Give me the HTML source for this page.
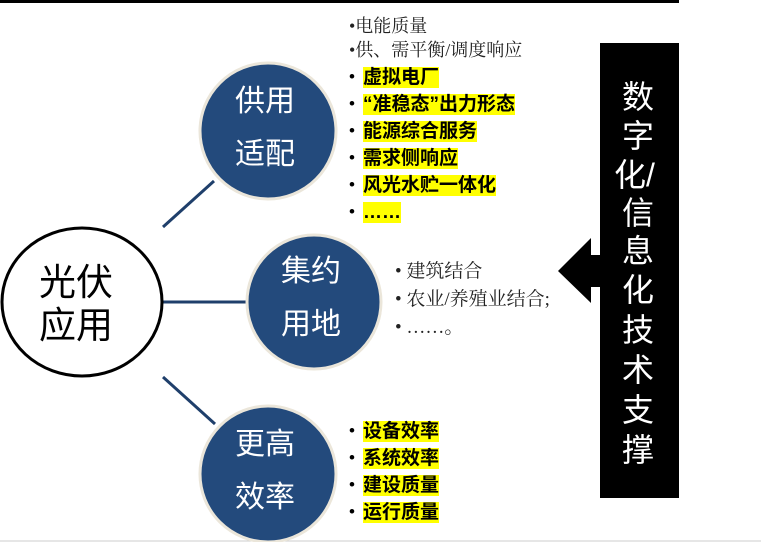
<!DOCTYPE html>
<html><head><meta charset="utf-8"><style>
body{margin:0;width:761px;height:542px;position:relative;background:#fff;overflow:hidden;font-family:"Liberation Sans","Noto Sans CJK SC",sans-serif}
.t{position:absolute;white-space:nowrap;line-height:1}
.hl{background:#ff0;font-weight:bold;color:#000;font-size:19px;position:absolute;left:14px;top:-1px;padding:1px 0}
.sr{font-family:"Liberation Serif","Noto Serif CJK SC",serif;color:#222}
</style></head><body>
<svg width="761" height="542" style="position:absolute;left:0;top:0">
<rect x="0" y="0" width="679" height="3" fill="#000"/>
<line x1="0" y1="541" x2="761" y2="541" stroke="#ccc" stroke-width="1"/>
<line x1="163" y1="227" x2="214" y2="181" stroke="#1f3f6b" stroke-width="3"/>
<line x1="163" y1="302" x2="246" y2="302" stroke="#1f3f6b" stroke-width="3"/>
<line x1="163" y1="377" x2="215" y2="424" stroke="#1f3f6b" stroke-width="3"/>
<ellipse cx="82" cy="302" rx="80" ry="74" fill="#fff" stroke="#000" stroke-width="3"/>
<circle cx="268" cy="131" r="68" fill="#234a7c" stroke="#ebe6da" stroke-width="3"/>
<circle cx="314" cy="302" r="67" fill="#234a7c" stroke="#ebe6da" stroke-width="3"/>
<circle cx="268" cy="474" r="68" fill="#234a7c" stroke="#ebe6da" stroke-width="3"/>
<rect x="600" y="43" width="79" height="455" fill="#000"/>
<polygon points="558,271 591,238 591,255 600,255 600,287 591,287 591,303" fill="#000"/>
</svg>
<div class="t" style="left:39px;top:264px;font-size:37px">光伏</div>
<div class="t" style="left:39px;top:307px;font-size:37px">应用</div>
<div class="t" style="left:235px;top:87px;font-size:30px;color:#fff">供用</div>
<div class="t" style="left:235px;top:140px;font-size:30px;color:#fff">适配</div>
<div class="t" style="left:281px;top:257px;font-size:30px;color:#fff">集约</div>
<div class="t" style="left:281px;top:310px;font-size:30px;color:#fff">用地</div>
<div class="t" style="left:235px;top:430px;font-size:30px;color:#fff">更高</div>
<div class="t" style="left:235px;top:483px;font-size:30px;color:#fff">效率</div>

<div class="t sr" style="left:349px;top:17px;font-size:18px">•电能质量</div>
<div class="t sr" style="left:349px;top:41px;font-size:18px">•供、需平衡/调度响应</div>
<div class="t" style="left:349px;top:68px;font-size:17px">•<span class="hl">虚拟电厂</span></div>
<div class="t" style="left:349px;top:95px;font-size:17px">•<span class="hl">“准稳态”出力形态</span></div>
<div class="t" style="left:349px;top:122px;font-size:17px">•<span class="hl">能源综合服务</span></div>
<div class="t" style="left:349px;top:149px;font-size:17px">•<span class="hl">需求侧响应</span></div>
<div class="t" style="left:349px;top:176px;font-size:17px">•<span class="hl">风光水贮一体化</span></div>
<div class="t" style="left:349px;top:203px;font-size:17px">•<span class="hl">……</span></div>

<div class="t sr" style="left:395px;top:262px;font-size:19px">•&nbsp;建筑结合</div>
<div class="t sr" style="left:395px;top:290px;font-size:19px">•&nbsp;农业/养殖业结合;</div>
<div class="t sr" style="left:395px;top:318px;font-size:19px">•&nbsp;……。</div>

<div class="t" style="left:349px;top:422px;font-size:17px">•<span class="hl">设备效率</span></div>
<div class="t" style="left:349px;top:449px;font-size:17px">•<span class="hl">系统效率</span></div>
<div class="t" style="left:349px;top:476px;font-size:17px">•<span class="hl">建设质量</span></div>
<div class="t" style="left:349px;top:503px;font-size:17px">•<span class="hl">运行质量</span></div>

<div class="t" style="left:622px;top:81px;font-size:32px;color:#fff">数</div>
<div class="t" style="left:622px;top:120px;font-size:32px;color:#fff">字</div>
<div class="t" style="left:614px;top:159px;font-size:32px;color:#fff">化/</div>
<div class="t" style="left:622px;top:197px;font-size:32px;color:#fff">信</div>
<div class="t" style="left:622px;top:235px;font-size:32px;color:#fff">息</div>
<div class="t" style="left:622px;top:274px;font-size:32px;color:#fff">化</div>
<div class="t" style="left:622px;top:314px;font-size:32px;color:#fff">技</div>
<div class="t" style="left:622px;top:354px;font-size:32px;color:#fff">术</div>
<div class="t" style="left:622px;top:394px;font-size:32px;color:#fff">支</div>
<div class="t" style="left:622px;top:434px;font-size:32px;color:#fff">撑</div>
</body></html>
